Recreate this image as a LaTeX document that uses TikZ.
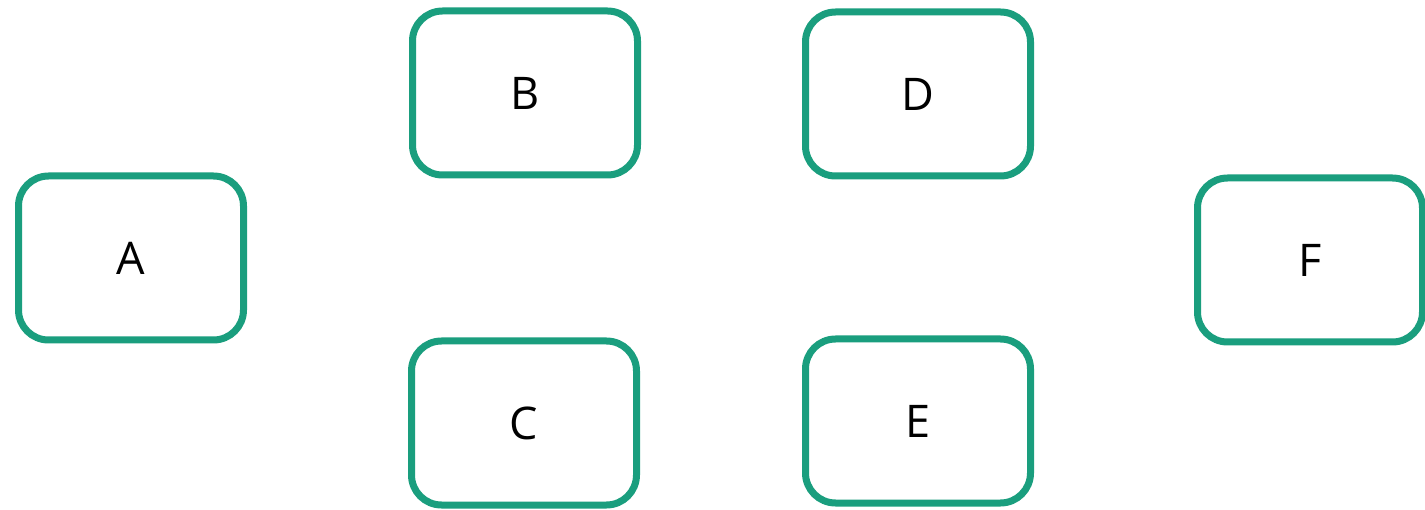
\documentclass[tikz,border=0pt]{standalone}
\usepackage{fontspec}
\setmainfont{Open Sans}
\definecolor{teal}{HTML}{1A9E7E}
\begin{document}
\begin{tikzpicture}[x=1pt,y=1pt,
  box/.style={draw=teal, line width=7pt, rounded corners=30pt, minimum width=225pt, minimum height=164pt, fill=white, font=\fontsize{45}{54}\selectfont, inner sep=0pt}]
\useasboundingbox (0,0) rectangle (1425,509);
\node[box] (A) at (131,251) {A};
\node[box] (B) at (525,416) {B};
\node[box] (C) at (524,86) {C};
\node[box] (D) at (918,415) {D};
\node[box] (E) at (918,88) {E};
\node[box] (F) at (1310,249) {F};
\end{tikzpicture}
\end{document}
